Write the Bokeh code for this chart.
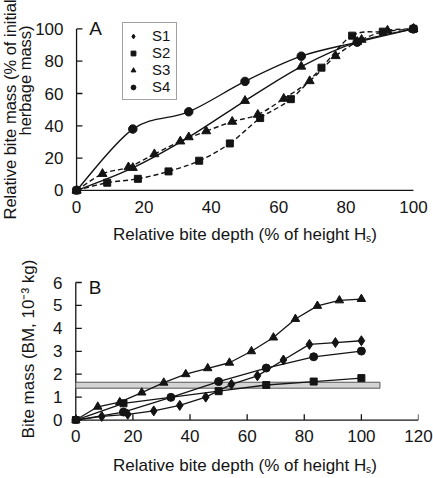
import numpy as np
from bokeh.plotting import figure
from bokeh.models import (Range1d, FixedTicker, Label, Legend, LegendItem, CDSView,
                          IndexFilter, Title)
from bokeh.layouts import column
from bokeh.embed import file_html
from bokeh.resources import INLINE

# ---------------- data ----------------
A_X_TICKS = [0, 20, 40, 60, 80, 100]
A_Y_TICKS = [0, 20, 40, 60, 80, 100]
B_X_TICKS = [0, 20, 40, 60, 80, 100, 120]
B_Y_TICKS = [0, 1, 2, 3, 4, 5, 6]
LEGEND_LABELS = ["S1", "S2", "S3", "S4"]
X_TITLE = "Relative bite depth (% of height H\u209b)"
A_Y_TITLE_1 = "Relative bite mass (% of initial"
A_Y_TITLE_2 = "herbage mass)"
B_Y_TITLE = "Bite mass (BM, 10\u207b\u00b3 kg)"

# Panel A: relative bite mass (% of initial herbage mass)
a_sq_x = [0, 9.1, 18.2, 27.3, 36.4, 45.5, 54.5, 63.6, 72.7, 81.8, 90.9, 100]
a_sq_y = [0, 4.8, 7.2, 11.8, 18.4, 29.1, 44.8, 56.5, 76.0, 95.8, 98.3, 100]
a_tri_dash_x = [0, 7.7, 15.4, 23.1, 30.8, 38.5, 46.2, 53.8, 61.5, 69.2, 76.9, 84.6, 92.3, 100]
a_tri_dash_y = [0, 10.3, 14.4, 22.5, 30.4, 36.7, 42.6, 46.9, 56.8, 67.7, 83.2, 93.3, 99.0, 100]
a_tri_solid_x = [0, 16.7, 33.3, 50, 66.7, 83.3, 100]
a_tri_solid_y = [0, 14.0, 33.0, 55.5, 76.7, 92.0, 100]
a_circ_x = [0, 16.7, 33.3, 50, 66.7, 83.3, 100]
a_circ_y = [0, 38.0, 48.7, 67.5, 83.1, 91.8, 100]

# Panel B: bite mass (BM, 10^-3 kg)
b_s1_x = [0, 9.1, 18.2, 27.3, 36.4, 45.5, 54.5, 63.6, 72.7, 81.8, 90.9, 100]
b_s1_y = [0, 0.16, 0.25, 0.40, 0.64, 1.00, 1.56, 1.93, 2.62, 3.30, 3.38, 3.46]
b_s2_x = [0, 16.7, 50, 66.7, 83.3, 100]
b_s2_y = [0, 0.73, 1.26, 1.53, 1.68, 1.83]
b_s3_x = [0, 7.7, 15.4, 23.1, 30.8, 38.5, 46.2, 53.8, 61.5, 69.2, 76.9, 84.6, 92.3, 100]
b_s3_y = [0, 0.58, 0.78, 1.20, 1.63, 2.00, 2.26, 2.50, 3.00, 3.60, 4.41, 4.98, 5.22, 5.28]
b_s4_x = [0, 16.7, 33.3, 50, 66.7, 83.3, 100]
b_s4_y = [0, 0.35, 0.99, 1.68, 2.27, 2.76, 3.01]
band_x = [0, 106.5]
band_y = [1.39, 1.65]

# ---------------- style ----------------
FONT = "Liberation Sans"
INK = "#141414"
TICK_SIZE = "17px"
TICK_LEN = 6  # px, pointing inward


def bezier_ctrl(xs, ys):
    x = np.asarray(xs, float)
    y = np.asarray(ys, float)
    n = len(x)
    xp = np.concatenate([[x[0]], x, [x[-1]]])
    yp = np.concatenate([[y[0]], y, [y[-1]]])
    cx0 = xp[1:n] + (xp[2:n + 1] - xp[0:n - 1]) / 6.0
    cy0 = yp[1:n] + (yp[2:n + 1] - yp[0:n - 1]) / 6.0
    cx1 = xp[2:n + 1] - (xp[3:n + 2] - xp[1:n]) / 6.0
    cy1 = yp[2:n + 1] - (yp[3:n + 2] - yp[1:n]) / 6.0
    return dict(x0=x[:-1], y0=y[:-1], x1=x[1:], y1=y[1:],
                cx0=cx0, cy0=cy0, cx1=cx1, cy1=cy1)


def make_fig(fw, fh, xr, yr, left, right, top, bottom, xticks, yticks,
             xtitle, ytitle, x_std, x_title_std, y_std, y_title_std, xticks_marks):
    p = figure(width=left + fw + right, height=top + fh + bottom,
               x_range=Range1d(*xr), y_range=Range1d(*yr),
               min_border_left=left, min_border_right=right,
               min_border_top=top, min_border_bottom=bottom,
               output_backend="svg", toolbar_location=None)
    p.xgrid.visible = False
    p.ygrid.visible = False
    p.outline_line_color = None
    for ax in (p.xaxis[0], p.yaxis[0]):
        ax.axis_line_color = None
        ax.major_tick_line_color = None
        ax.minor_tick_line_color = None
        ax.major_label_text_font = FONT
        ax.major_label_text_font_size = TICK_SIZE
        ax.major_label_text_color = INK
        ax.axis_label_text_font = FONT
        ax.axis_label_text_font_style = "normal"
        ax.axis_label_text_color = INK
        ax.axis_label_text_font_size = "17px"
    p.xaxis.ticker = FixedTicker(ticks=xticks)
    p.yaxis.ticker = FixedTicker(ticks=yticks)
    p.xaxis.major_label_standoff = x_std
    p.yaxis.major_label_standoff = y_std
    p.xaxis.axis_label = xtitle
    p.xaxis.axis_label_standoff = x_title_std
    if ytitle is not None:
        p.yaxis.axis_label = ytitle
        p.yaxis.axis_label_standoff = y_title_std

    # axis lines drawn at the data origin, ticks pointing inward
    sx = fw / (xr[1] - xr[0])
    sy = fh / (yr[1] - yr[0])
    x0, y0 = xticks[0], yticks[0]
    p.segment(x0=[x0, x0], y0=[y0, y0], x1=[xticks[-1], x0], y1=[y0, yticks[-1]],
              line_color=INK, line_width=1.3)
    p.segment(x0=[x0] * len(yticks), y0=yticks, x1=[x0 + TICK_LEN / sx] * len(yticks), y1=yticks,
              line_color=INK, line_width=1.3)
    if xticks_marks:
        p.segment(x0=xticks, y0=[y0] * len(xticks), x1=xticks, y1=[y0 + TICK_LEN / sy] * len(xticks),
                  line_color=INK, line_width=1.3)
    return p


# ---------------- panel A ----------------
A_XR = (-1.5, 101.5)
A_YR = (-2.5, 108.9)
pa = make_fig(353, 183, A_XR, A_YR, 71, 9, 14, 49, A_X_TICKS, A_Y_TICKS,
              X_TITLE, None, 0, 9, 2, 0, False)
# two-line y title, each line placed on its own (offset measured up from the frame bottom)
pa.add_layout(Title(text=A_Y_TITLE_2, align="left", offset=59, standoff=-3,
                    text_font=FONT, text_font_size="16.5px", text_font_style="normal",
                    text_color=INK), "left")
pa.add_layout(Title(text=A_Y_TITLE_1, align="left", offset=-25, standoff=-6,
                    text_font=FONT, text_font_size="16.5px", text_font_style="normal",
                    text_color=INK), "left")

lw = 1.4
pa.bezier(line_color=INK, line_width=lw, line_dash="5 3", **bezier_ctrl(a_sq_x, a_sq_y))
pa.bezier(line_color=INK, line_width=lw, line_dash="5 3", **bezier_ctrl(a_tri_dash_x, a_tri_dash_y))
pa.bezier(line_color=INK, line_width=lw, **bezier_ctrl(a_tri_solid_x, a_tri_solid_y))
pa.bezier(line_color=INK, line_width=lw, **bezier_ctrl(a_circ_x, a_circ_y))
# diamond glyph for the legend: only the origin point, hidden under the other origin markers
r_dia = pa.scatter(a_circ_x, a_circ_y, marker="diamond", size=8, color=INK,
                   view=CDSView(filter=IndexFilter(indices=[0])))
r_sq = pa.scatter(a_sq_x, a_sq_y, marker="square", size=7, color=INK)
r_tri = pa.scatter(a_tri_dash_x, a_tri_dash_y, marker="triangle", size=9, color=INK)
pa.scatter(a_tri_solid_x, a_tri_solid_y, marker="triangle", size=9, color=INK)
r_circ = pa.scatter(a_circ_x, a_circ_y, marker="circle", size=8.5, color=INK)

items = [LegendItem(label=lab, renderers=[r], index=0)
         for lab, r in zip(LEGEND_LABELS, [r_dia, r_sq, r_tri, r_circ])]
legend = Legend(items=items, location=(51, 94), padding=4, spacing=0, margin=0,
                glyph_width=12, glyph_height=14, label_height=16, label_standoff=13,
                label_text_font=FONT, label_text_font_size="15px", label_text_color=INK,
                label_text_line_height=1.12,
                border_line_color="#444444", border_line_width=1, background_fill_alpha=1)
pa.add_layout(legend)

pa.add_layout(Label(x=3.8, y=100.2, text="A", text_font=FONT, text_font_size="19px",
                    text_baseline="alphabetic", text_color=INK))

# ---------------- panel B ----------------
B_XR = (-1.5, 120)
B_YR = (-0.15, 6.35)
pb = make_fig(347, 152, B_XR, B_YR, 71, 15, 28, 51, B_X_TICKS, B_Y_TICKS,
              X_TITLE, B_Y_TITLE, 0, 11, 3, 12, True)

pb.quad(left=band_x[0], right=band_x[1], bottom=band_y[0], top=band_y[1],
        fill_color="#d4d4d4", line_color="#555555", line_width=1)
blw = 1.3
pb.line(b_s1_x, b_s1_y, line_color=INK, line_width=blw)
pb.line(b_s2_x, b_s2_y, line_color=INK, line_width=blw)
pb.line(b_s3_x, b_s3_y, line_color=INK, line_width=blw)
pb.line(b_s4_x, b_s4_y, line_color=INK, line_width=blw)
pb.scatter(b_s1_x, b_s1_y, marker="diamond", size=10, color=INK)
pb.scatter(b_s2_x, b_s2_y, marker="square", size=7, color=INK)
pb.scatter(b_s3_x, b_s3_y, marker="triangle", size=8.5, color=INK)
pb.scatter(b_s4_x, b_s4_y, marker="circle", size=8, color=INK)

pb.add_layout(Label(x=4.56, y=5.79, text="B", text_font=FONT, text_font_size="19px",
                    text_baseline="alphabetic", text_color=INK))

layout = column(pa, pb, spacing=0)
open("out.html", "w").write(file_html(layout, INLINE))
